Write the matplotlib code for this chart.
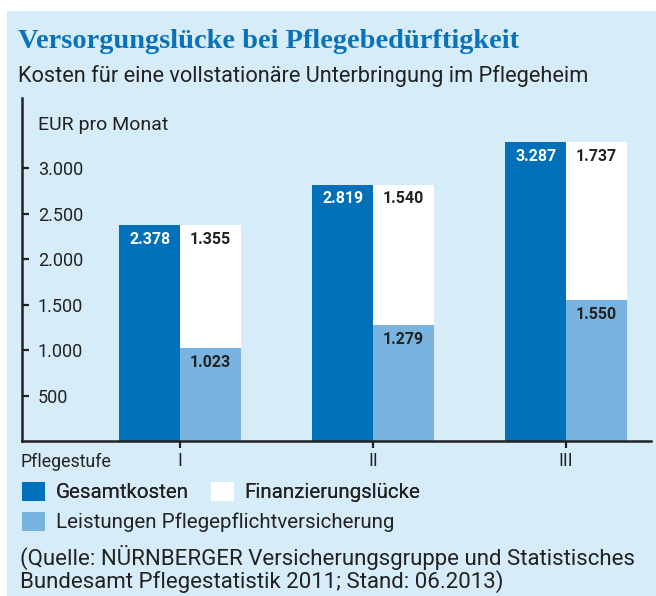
import numpy as np
import matplotlib.pyplot as plt
from matplotlib.patches import Rectangle

# data
stufen = ["I", "II", "III"]
gesamtkosten = [2378, 2819, 3287]
leistungen = [1023, 1279, 1550]
luecke = [1355, 1540, 1737]
yticks = [500, 1000, 1500, 2000, 2500, 3000]

dark_blue = "#0070b9"
light_blue = "#79b4e1"
bg = "#d6ecf9"
txt = "#222222"

plt.rcParams['font.family'] = ['Roboto', 'DejaVu Sans']

W, H = 656, 596
fig = plt.figure(figsize=(W / 100, H / 100), dpi=100)
fig.patches.append(Rectangle((7 / W, 0), 1, 1 - 11 / H, transform=fig.transFigure,
                             facecolor=bg, edgecolor="none", zorder=-10))

# axes box in pixel coordinates
ax = fig.add_axes([22 / W, 1 - 441 / H, (651 - 22) / W, (441 - 98) / H])
ax.set_facecolor("none")

x = np.arange(len(stufen))
w = 0.316
b1 = ax.bar(x - w / 2, gesamtkosten, w, color=dark_blue, label="Gesamtkosten")
b2 = ax.bar(x + w / 2, leistungen, w, color=light_blue, label="Leistungen Pflegepflichtversicherung")
b3 = ax.bar(x + w / 2, luecke, w, bottom=leistungen, color="white", label="Finanzierungslücke")

def fmt(v):
    return f"{v:,}".replace(",", ".")

for i in range(len(stufen)):
    ax.annotate(fmt(gesamtkosten[i]), (x[i] - w / 2, gesamtkosten[i]), xytext=(0, -5),
                textcoords="offset points", ha="center", va="top", color="white",
                fontsize=11.5, fontweight="bold")
    ax.annotate(fmt(luecke[i]), (x[i] + w / 2, leistungen[i] + luecke[i]), xytext=(0, -5),
                textcoords="offset points", ha="center", va="top", color=txt,
                fontsize=11.5, fontweight="bold")
    ax.annotate(fmt(leistungen[i]), (x[i] + w / 2, leistungen[i]), xytext=(0, -5),
                textcoords="offset points", ha="center", va="top", color=txt,
                fontsize=11.5, fontweight="bold")

ax.set_xlim(-0.82, 2.44)
ax.set_ylim(0, 3770)
ax.set_xticks(x)
ax.set_xticklabels(stufen, fontsize=13, color=txt)
ax.set_yticks(yticks)
ax.set_yticklabels([fmt(v) for v in yticks], fontsize=13, color=txt)
for lab in ax.get_yticklabels():
    lab.set_horizontalalignment("left")
ax.tick_params(axis="y", direction="in", length=5, width=1.6, color=txt, pad=-11.5)
ax.tick_params(axis="x", direction="out", length=5, width=1.6, color=txt, pad=3)
for s in ["top", "right"]:
    ax.spines[s].set_visible(False)
for s in ["left", "bottom"]:
    ax.spines[s].set_linewidth(1.8)
    ax.spines[s].set_color(txt)

ax.text(38 / W, 1 - 125 / H, "EUR pro Monat", transform=fig.transFigure,
        fontsize=14, color=txt, va="center", ha="left")
ax.text(20 / W, 1 - 462 / H, "Pflegestufe", transform=fig.transFigure,
        fontsize=12.8, color=txt, va="center", ha="left")

fig.text(18 / W, 1 - 42 / H, "Versorgungslücke bei Pflegebedürftigkeit",
         family="Liberation Serif", fontweight="bold", fontsize=20.4, color="#0a72b8",
         va="center", ha="left")
fig.text(18 / W, 1 - 76 / H, "Kosten für eine vollstationäre Unterbringung im Pflegeheim",
         fontsize=15.7, color=txt, va="center", ha="left")

leg1 = fig.legend(handles=[b1, b3], loc="center left", bbox_to_anchor=(22 / W, 1 - 492 / H),
                  ncol=2, frameon=False, fontsize=14.8, borderpad=0, borderaxespad=0,
                  handlelength=1.1, handleheight=1.05, handletextpad=0.53, columnspacing=1.1)
for t in leg1.get_texts():
    t.set_color(txt)
leg2 = fig.legend(handles=[b2], loc="center left", bbox_to_anchor=(22 / W, 1 - 522 / H),
                  frameon=False, fontsize=14.8, borderpad=0, borderaxespad=0,
                  handlelength=1.1, handleheight=1.05, handletextpad=0.53)
for t in leg2.get_texts():
    t.set_color(txt)
fig.add_artist(leg1)

fig.text(20 / W, 1 - 545 / H,
         "(Quelle: NÜRNBERGER Versicherungsgruppe und Statistisches\n"
         "Bundesamt Pflegestatistik 2011; Stand: 06.2013)",
         fontsize=16, color=txt, va="top", ha="left", linespacing=1.0)

fig.savefig("out.png", dpi=100)
